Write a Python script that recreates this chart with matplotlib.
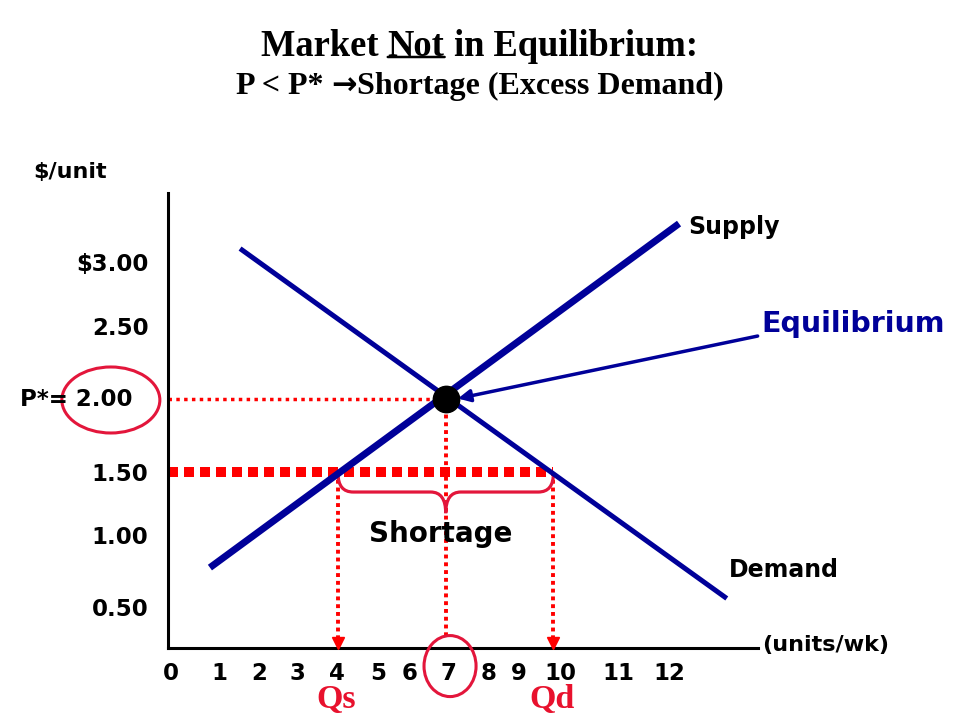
import matplotlib
matplotlib.use("Agg")
import matplotlib.pyplot as plt
from matplotlib.patches import Ellipse, PathPatch
from matplotlib.path import Path

# ---- data ----
quantity_labels = ['0', '1', '2', '3', '4', '5', '6', '7', '8', '9', '10', '11', '12']
price_labels = ['0.50', '1.00', '1.50', '2.50', '\\$3.00']

supply_q = [0.43, 13.5]
supply_p = [0.85, 3.19]
demand_q = [1.27, 14.83]
demand_p = [3.02, 0.64]

eq_q, eq_p = 7, 2.0
low_price = 1.5
qs, qd = 4, 10

# where the (hand placed) tick labels sit, in data units
xtick_pos = [-0.65, 0.68, 1.8, 2.86, 3.98, 5.11, 6.0, 7.08, 8.2, 9.04, 10.2, 11.82, 13.24]
ytick_pos = [0.58, 1.07, 1.5, 2.49, 2.93]

BLUE = '#000099'
RED = '#FF0000'
CRIMSON = '#E3163B'
SERIF = ['Liberation Serif', 'DejaVu Serif']

fig = plt.figure(figsize=(9.6, 7.2), dpi=100)
ax = fig.add_axes([168 / 960, 1 - 648 / 720, 590 / 960, 455 / 720])
ax.set_xlim(-0.738, 15.70)
ax.set_ylim(0.303, 3.398)

for side in ['top', 'right']:
    ax.spines[side].set_visible(False)
for side in ['left', 'bottom']:
    ax.spines[side].set_linewidth(2.2)

ax.set_xticks(xtick_pos, quantity_labels)
ax.set_yticks(ytick_pos, price_labels)
ax.tick_params(axis='x', length=0, pad=10, labelsize=16.5)
ax.tick_params(axis='y', length=0, pad=14, labelsize=16.5)
for lab in ax.get_xticklabels() + ax.get_yticklabels():
    lab.set_fontweight('bold')

# reference lines
ax.plot([ax.get_xlim()[0], eq_q], [eq_p, eq_p], color=RED, lw=2.5,
        ls=(0, (1, 1.25)), zorder=2)
ax.plot([ax.get_xlim()[0], qd], [low_price, low_price], color=RED, lw=7.2,
        ls=(0, (1, 0.6)), zorder=2)
ax.plot([eq_q, eq_q], [eq_p, 0.357], color=RED, lw=2.8, ls=(0, (1, 1)), zorder=2)
for q in [qs, qd]:
    ax.plot([q, q], [low_price, 0.36], color=RED, lw=2.8, ls=(0, (1, 1)), zorder=2)
    ax.plot([q], [0.34], marker='v', ms=8, color=RED, clip_on=False, zorder=3)

# curves
ax.plot(demand_q, demand_p, color=BLUE, lw=3.6, solid_capstyle='butt', zorder=4)
ax.plot(supply_q, supply_p, color=BLUE, lw=5, solid_capstyle='butt', zorder=4)
ax.plot([eq_q], [eq_p], 'o', color='black', ms=19, zorder=6)

# brace under the shortage
rx = 0.42
ytop, ymid, ytip = low_price - 0.01, 1.364, 1.22
verts = [(qs, ytop), (qs, ymid), (qs + rx, ymid), (eq_q - rx, ymid),
         (eq_q, ymid), (eq_q, ytip), (eq_q, ymid), (eq_q + rx, ymid),
         (qd - rx, ymid), (qd, ymid), (qd, ytop)]
codes = [Path.MOVETO, Path.CURVE3, Path.CURVE3, Path.LINETO,
         Path.CURVE3, Path.CURVE3, Path.CURVE3, Path.CURVE3,
         Path.LINETO, Path.CURVE3, Path.CURVE3]
ax.add_patch(PathPatch(Path(verts, codes), fill=False, ec=CRIMSON, lw=2.3, zorder=3))

# labels
ax.text(eq_q - 0.15, 1.08, 'Shortage', fontsize=20, fontweight='bold',
        ha='center', va='center', zorder=5)
ax.text(13.75, 3.17, 'Supply', fontsize=17, fontweight='bold', va='center')
ax.text(14.88, 0.835, 'Demand', fontsize=17, fontweight='bold', va='center')
ax.text(15.8, 2.51, 'Equilibrium', fontsize=20.5, fontweight='bold', color=BLUE,
        va='center', clip_on=False)
ax.annotate('', xy=(7.34, 2.0), xytext=(15.69, 2.425),
            arrowprops=dict(arrowstyle='-|>', color=BLUE, lw=2.5,
                            mutation_scale=18, shrinkA=0, shrinkB=0),
            annotation_clip=False, zorder=7)

fig.text(33 / 960, 1 - 172 / 720, '\\$/unit', fontsize=16, fontweight='bold', va='center')
fig.text(762 / 960, 1 - 645 / 720, '(units/wk)', fontsize=16, fontweight='bold', va='center')
fig.text(132 / 960, 1 - 399 / 720, 'P*= 2.00', fontsize=16.5, fontweight='bold',
         ha='right', va='center')

# red circles
ax.add_patch(Ellipse((-2.33, 1.99), 2.73, 0.449, fill=False, ec=CRIMSON, lw=2.2,
                     clip_on=False, zorder=5))
ax.add_patch(Ellipse((7.12, 0.18), 1.45, 0.415, fill=False, ec=CRIMSON, lw=2.2,
                     clip_on=False, zorder=5))

fig.text(336 / 960, 1 - 708 / 720, 'Qs', family=SERIF, fontsize=24.5, fontweight='bold',
         color='#E8112D', ha='center', va='baseline')
fig.text(552 / 960, 1 - 708 / 720, 'Qd', family=SERIF, fontsize=24.5, fontweight='bold',
         color='#E8112D', ha='center', va='baseline')

# title with underlined "Not"
t1 = fig.text(261 / 960, 1 - 56 / 720, 'Market ', family=SERIF, fontsize=26.3,
              fontweight='bold', va='baseline')
t2 = ax.annotate('Not', xy=(1, 0), xycoords=t1, va='bottom', family=SERIF,
                 fontsize=26.3, fontweight='bold', annotation_clip=False)
ax.annotate(' in Equilibrium:', xy=(1, 0), xycoords=t2, va='bottom', family=SERIF,
            fontsize=26.3, fontweight='bold', annotation_clip=False)
ax.annotate('', xy=(0, 0.2), xycoords=t2, xytext=(1, 0.2), textcoords=t2,
            arrowprops=dict(arrowstyle='-', color='black', lw=1.8,
                            shrinkA=0, shrinkB=0),
            annotation_clip=False)

# subtitle with a heavy arrow
s1 = fig.text(236 / 960, 1 - 94 / 720, 'P < P* ', family=SERIF, fontsize=23,
              fontweight='bold', va='baseline')
s2 = ax.annotate('\u2192', xy=(1, 0), xycoords=s1, va='bottom', family=['DejaVu Sans'],
                 fontsize=22, fontweight='bold', annotation_clip=False)
ax.annotate('Shortage (Excess Demand)', xy=(1, 0), xycoords=s2, va='bottom',
            family=SERIF, fontsize=23, fontweight='bold', annotation_clip=False)

plt.savefig('out.png', dpi=100)
